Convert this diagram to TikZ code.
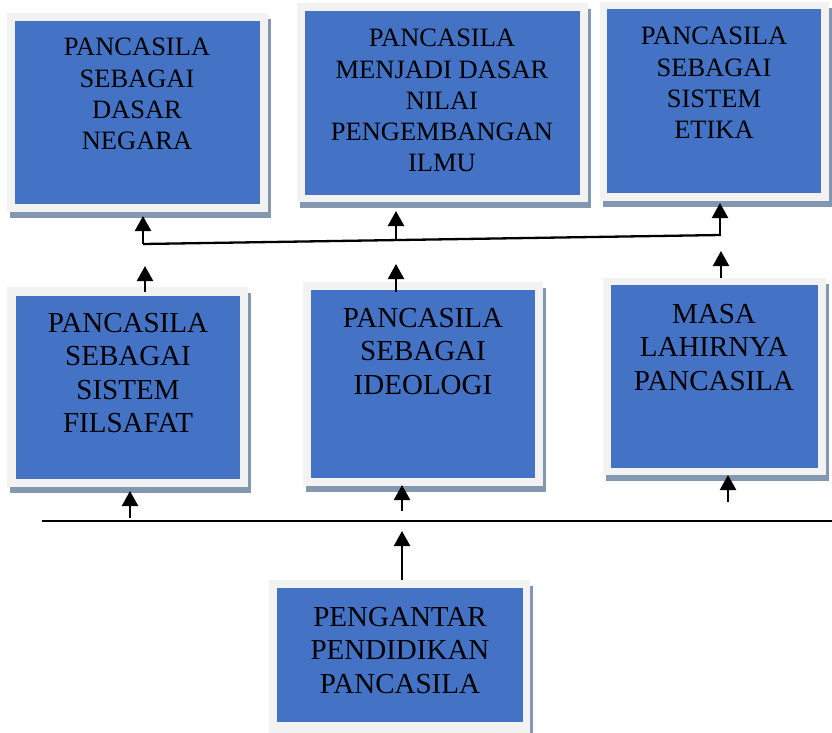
\documentclass[tikz,border=0pt]{standalone}
\usepackage{fontspec}
\setmainfont{Liberation Serif}
\usetikzlibrary{arrows.meta}
\definecolor{boxblue}{HTML}{4472C4}
\definecolor{framegray}{HTML}{F2F2F2}
\definecolor{shadowcol}{HTML}{8497B0}
\begin{document}
\begin{tikzpicture}[x=1pt,y=-1pt,
  framebox/.style={fill=framegray, draw=none, inner sep=0pt, outer sep=0pt, anchor=north west},
  shadowbox/.style={fill=shadowcol, draw=none},
  bluebody/.style={fill=boxblue, draw=none, inner sep=0pt, outer sep=0pt, anchor=north west},
  toptxt/.style={font=\fontsize{26.5}{31.3}\selectfont, align=center, inner sep=0pt, anchor=north, text=black},
  midtxt/.style={font=\fontsize{29}{33.5}\selectfont, align=center, inner sep=0pt, anchor=north, text=black},
  arr/.style={line width=2.3pt, -{Triangle[width=16pt,length=15pt]}},
  ln/.style={line width=2.3pt}
]
\useasboundingbox (0,0) rectangle (832,733);

% shadows
\fill[shadowbox] (10,19) rectangle (271,218);
\fill[shadowbox] (300,9) rectangle (591,208);
\fill[shadowbox] (603,8) rectangle (832,207);
\fill[shadowbox] (10,293) rectangle (251,493);
\fill[shadowbox] (306,288) rectangle (546,492);
\fill[shadowbox] (606,284) rectangle (829,481);
\fill[shadowbox] (272,586) rectangle (533,739);

% frames
\node[framebox, minimum width=261pt, minimum height=199pt] (f1) at (7,13) {};
\node[framebox, minimum width=291pt, minimum height=199pt] (f2) at (297,3) {};
\node[framebox, minimum width=229pt, minimum height=199pt] (f3) at (600,2) {};
\node[framebox, minimum width=241pt, minimum height=200pt] (f4) at (7,287) {};
\node[framebox, minimum width=240pt, minimum height=204pt] (f5) at (303,282) {};
\node[framebox, minimum width=223pt, minimum height=197pt] (f6) at (603,278) {};
\node[framebox, minimum width=261pt, minimum height=153pt] (f7) at (269,580) {};

% blue bodies
\node[bluebody, minimum width=245pt, minimum height=183pt] (b1) at (15,21) {};
\node[bluebody, minimum width=275pt, minimum height=184pt] (b2) at (305,11) {};
\node[bluebody, minimum width=214pt, minimum height=184pt] (b3) at (607,9) {};
\node[bluebody, minimum width=224pt, minimum height=183pt] (b4) at (16,296) {};
\node[bluebody, minimum width=224pt, minimum height=188pt] (b5) at (311,290) {};
\node[bluebody, minimum width=207pt, minimum height=183pt] (b6) at (611,285) {};
\node[bluebody, minimum width=246pt, minimum height=134pt] (b7) at (277,588) {};

% texts
\node[toptxt] (t1) at (137,38) {PANCASILA\\SEBAGAI\\DASAR\\NEGARA};
\node[toptxt] (t2) at (442,29) {PANCASILA\\MENJADI DASAR\\NILAI\\PENGEMBANGAN\\ILMU};
\node[toptxt] (t3) at (714,27) {PANCASILA\\SEBAGAI\\SISTEM\\ETIKA};
\node[midtxt] (t4) at (128,313) {PANCASILA\\SEBAGAI\\SISTEM\\FILSAFAT};
\node[midtxt] (t5) at (423,308) {PANCASILA\\SEBAGAI\\IDEOLOGI};
\node[midtxt] (t6) at (714,304) {MASA\\LAHIRNYA\\PANCASILA};
\node[midtxt] (t7) at (400,607) {PENGANTAR\\PENDIDIKAN\\PANCASILA};

% connector coordinates
\coordinate (hl) at (42,521);
\coordinate (hr) at (832,521);
\coordinate (s7) at (402,580);
\coordinate (e7) at (402,531);
\coordinate (s4) at (130,518);
\coordinate (e4) at (130,491);
\coordinate (s5) at (402,511);
\coordinate (e5) at (402,485);
\coordinate (s6) at (728,502);
\coordinate (e6) at (728,475);
\coordinate (u4s) at (145,292);
\coordinate (u4e) at (145,266);
\coordinate (u5s) at (396,292);
\coordinate (u5e) at (396,264);
\coordinate (u6s) at (721,278);
\coordinate (u6e) at (721,251);
\coordinate (sl) at (143,244);
\coordinate (sr) at (721,235);
\coordinate (v1s) at (143,244);
\coordinate (v1e) at (143,216);
\coordinate (v2s) at (396,240);
\coordinate (v2e) at (396,211);
\coordinate (v3s) at (720,235);
\coordinate (v3e) at (720,203);

% lines and arrows
\draw[ln] (hl) -- (hr);
\draw[arr] (s7) -- (e7);
\draw[arr] (s4) -- (e4);
\draw[arr] (s5) -- (e5);
\draw[arr] (s6) -- (e6);
\draw[arr] (u4s) -- (u4e);
\draw[arr] (u5s) -- (u5e);
\draw[arr] (u6s) -- (u6e);
\draw[ln] (sl) -- (sr);
\draw[arr] (v1s) -- (v1e);
\draw[arr] (v2s) -- (v2e);
\draw[arr] (v3s) -- (v3e);
\end{tikzpicture}
\end{document}
